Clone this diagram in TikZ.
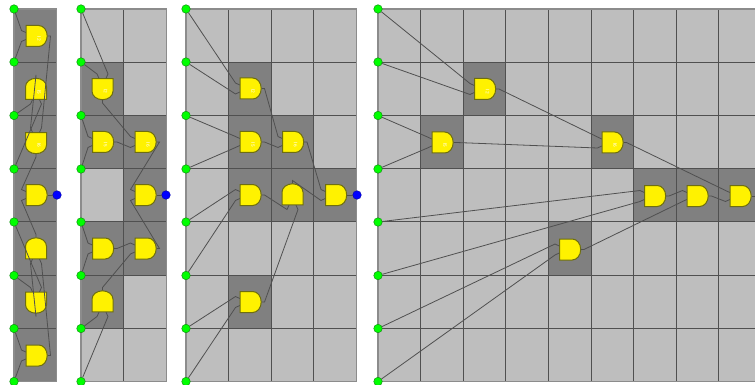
\documentclass[tikz,border=0pt]{standalone}
\usepackage{xcolor}
\usepackage{tikz}
\usetikzlibrary{calc}
\usetikzlibrary{shapes.gates.logic.US}
\definecolor{celllight}{HTML}{BEBEBE}
\definecolor{celldark}{HTML}{808080}
\definecolor{gridline}{HTML}{505050}
\definecolor{frameline}{HTML}{8C8C8C}
\definecolor{wireline}{HTML}{505050}
\definecolor{gateline}{HTML}{6E6E10}
\definecolor{pinline}{HTML}{109010}
\tikzset{
  mygate/.style={
    shape=and gate US,
    draw=gateline,
    fill=yellow,
    line width=1pt,
    inner sep=0pt,
    logic gate inputs=nn,
    minimum width=20.5pt,
    minimum height=21pt,
    xscale=0.8,
  },
  mypin/.style={
    shape=circle,
    draw=pinline,
    fill=green,
    line width=0.5pt,
    inner sep=0pt,
    minimum size=8.5pt,
  },
  myoutput/.style={
    shape=circle,
    draw=blue!70!black,
    fill=blue,
    line width=0.5pt,
    inner sep=0pt,
    minimum size=8.5pt,
  },
  mywire/.style={
    draw=wireline,
    line width=0.8pt,
  },
  mylabel/.style={
    text=white,
    inner sep=0pt,
    rotate=-90,
    font=\sffamily\fontsize{5}{5}\selectfont,
  },
}
% gate with its three stub ends: #1-1, #1-2 and #1-o
\newcommand{\andgate}[4]{
  \node[rotate=#4, mygate] (#1) at (#2,#3) {};
  \begin{scope}[shift={(#2,#3)}, rotate=#4]
    \coordinate (#1-1) at (-14.5pt, 5.5pt);
    \coordinate (#1-2) at (-14.5pt,-5.5pt);
    \coordinate (#1-o) at ( 14.5pt, 0pt);
  \end{scope}
}
% #1 left edge, #2 number of columns, #3 list of dark cells col/row
\newcommand{\panelgrid}[3]{
  \fill[celllight] (#1,9) rectangle ({#1+42.6*#2},381.5);
  \foreach \c/\r in {#3}
    \fill[celldark] ({#1+42.6*\c},{9+53.2*\r}) rectangle +(42.6,53.2);
  \foreach \c in {1,...,#2}
    \draw[gridline, line width=0.8pt] ({#1+42.6*\c},9) -- ({#1+42.6*\c},381.5);
  \foreach \r in {1,...,6}
    \draw[gridline, line width=0.8pt] (#1,{9+53.2*\r}) -- ({#1+42.6*#2},{9+53.2*\r});
  \draw[frameline, line width=1.2pt] (#1,9) rectangle ({#1+42.6*#2},381.5);
}
\begin{document}
\begin{tikzpicture}[x=1pt, y=-1pt]
    \clip (0,0) rectangle (755,385);

    \panelgrid{14}{1}{0/0,0/1,0/2,0/3,0/4,0/5,0/6}
    \panelgrid{81}{2}{0/1,0/2,0/4,0/5,1/2,1/3,1/4}
    \panelgrid{186}{4}{1/1,1/2,1/3,1/5,2/2,2/3,3/3}
    \panelgrid{378}{9}{2/1,1/2,5/2,6/3,7/3,8/3,4/4}

    \foreach \p/\x in {a/14,b/81,c/186,d/378}
      \foreach \n/\y in {1/9,2/62,3/115.5,4/169,5/222,6/275.5,7/328.5,8/381.5}
        \node[mypin] (\p\n) at (\x,\y) {};
    \node[myoutput] (aout) at (57,195) {};
    \node[myoutput] (bout) at (166,195) {};
    \node[myoutput] (cout) at (357,195) {};
    \coordinate (dout) at (755,196);

    \andgate{ga1}{36}{36}{0}
    \andgate{ga2}{36}{89.5}{90}
    \andgate{ga3}{36}{142.5}{-90}
    \andgate{ga4}{36}{195}{0}
    \andgate{ga5}{36}{249}{90}
    \andgate{ga6}{36}{302}{-90}
    \andgate{ga7}{36}{355.5}{0}

    \draw[mywire] (a1) -- (ga1-1) -- (ga1.input 1);
    \draw[mywire] (a2) -- (ga1-2) -- (ga1.input 2);
    \draw[mywire] (a3) -- (ga2-1) -- (ga2.input 1);
    \draw[mywire] (a4) -- (ga2-2) -- (ga2.input 2);
    \draw[mywire] (ga1.output) -- (ga1-o) -- (ga3-1) -- (ga3.input 1);
    \draw[mywire] (ga2.output) -- (ga2-o) -- (ga3-2) -- (ga3.input 2);
    \draw[mywire] (ga3.output) -- (ga3-o) -- (ga4-1) -- (ga4.input 1);
    \draw[mywire] (ga5.output) -- (ga5-o) -- (ga4-2) -- (ga4.input 2);
    \draw[mywire] (ga4.output) -- (aout);
    \draw[mywire] (a5) -- (ga6-1) -- (ga6.input 1);
    \draw[mywire] (a6) -- (ga6-2) -- (ga6.input 2);
    \draw[mywire] (ga6.output) -- (ga6-o) -- (ga5-1) -- (ga5.input 1);
    \draw[mywire] (ga7.output) -- (ga7-o) -- (ga5-2) -- (ga5.input 2);
    \draw[mywire] (a7) -- (ga7-1) -- (ga7.input 1);
    \draw[mywire] (a8) -- (ga7-2) -- (ga7.input 2);

    \andgate{gb1}{102.5}{88.5}{-90}
    \andgate{gb2}{102.5}{142}{0}
    \andgate{gb3}{145}{142}{0}
    \andgate{gb4}{145}{195}{0}
    \andgate{gb5}{102.5}{248.5}{0}
    \andgate{gb6}{145}{248.5}{0}
    \andgate{gb7}{102.5}{302}{90}

    \draw[mywire] (b1) -- (gb1-1) -- (gb1.input 1);
    \draw[mywire] (b2) -- (gb1-2) -- (gb1.input 2);
    \draw[mywire] (b3) -- (gb2-1) -- (gb2.input 1);
    \draw[mywire] (b4) -- (gb2-2) -- (gb2.input 2);
    \draw[mywire] (gb1.output) -- (gb1-o) -- (gb3-1) -- (gb3.input 1);
    \draw[mywire] (gb2.output) -- (gb2-o) -- (gb3-2) -- (gb3.input 2);
    \draw[mywire] (gb3.output) -- (gb3-o) -- (gb4-1) -- (gb4.input 1);
    \draw[mywire] (gb6.output) -- (gb6-o) -- (gb4-2) -- (gb4.input 2);
    \draw[mywire] (gb4.output) -- (bout);
    \draw[mywire] (b5) -- (gb5-1) -- (gb5.input 1);
    \draw[mywire] (b6) -- (gb5-2) -- (gb5.input 2);
    \draw[mywire] (gb5.output) -- (gb5-o) -- (gb6-1) -- (gb6.input 1);
    \draw[mywire] (gb7.output) -- (gb7-o) -- (gb6-2) -- (gb6.input 2);
    \draw[mywire] (b7) -- (gb7-1) -- (gb7.input 1);
    \draw[mywire] (b8) -- (gb7-2) -- (gb7.input 2);

    \andgate{gc1}{250}{88.5}{0}
    \andgate{gc2}{250}{142}{0}
    \andgate{gc3}{292.5}{142}{0}
    \andgate{gc4}{335.5}{195}{0}
    \andgate{gc5}{250}{195}{0}
    \andgate{gc6}{292.5}{195}{90}
    \andgate{gc7}{250}{302}{0}

    \draw[mywire] (c1) -- (gc1-1) -- (gc1.input 1);
    \draw[mywire] (c2) -- (gc1-2) -- (gc1.input 2);
    \draw[mywire] (c3) -- (gc2-1) -- (gc2.input 1);
    \draw[mywire] (c4) -- (gc2-2) -- (gc2.input 2);
    \draw[mywire] (gc1.output) -- (gc1-o) -- (gc3-1) -- (gc3.input 1);
    \draw[mywire] (gc2.output) -- (gc2-o) -- (gc3-2) -- (gc3.input 2);
    \draw[mywire] (gc3.output) -- (gc3-o) -- (gc4-1) -- (gc4.input 1);
    \draw[mywire] (gc6.output) -- (gc6-o) -- (gc4-2) -- (gc4.input 2);
    \draw[mywire] (gc4.output) -- (cout);
    \draw[mywire] (c5) -- (gc5-1) -- (gc5.input 1);
    \draw[mywire] (c6) -- (gc5-2) -- (gc5.input 2);
    \draw[mywire] (gc5.output) -- (gc5-o) -- (gc6-1) -- (gc6.input 1);
    \draw[mywire] (gc7.output) -- (gc7-o) -- (gc6-2) -- (gc6.input 2);
    \draw[mywire] (c7) -- (gc7-1) -- (gc7.input 1);
    \draw[mywire] (c8) -- (gc7-2) -- (gc7.input 2);

    \andgate{gd1}{484.5}{89}{0}
    \andgate{gd2}{442}{142.5}{0}
    \andgate{gd3}{612}{142.5}{0}
    \andgate{gd4}{740}{196}{0}
    \andgate{gd5}{654.5}{196}{0}
    \andgate{gd6}{697}{196}{0}
    \andgate{gd7}{569.5}{249.5}{0}

    \draw[mywire] (d1) -- (gd1-1) -- (gd1.input 1);
    \draw[mywire] (d2) -- (gd1-2) -- (gd1.input 2);
    \draw[mywire] (d3) -- (gd2-1) -- (gd2.input 1);
    \draw[mywire] (d4) -- (gd2-2) -- (gd2.input 2);
    \draw[mywire] (gd1.output) -- (gd1-o) -- (gd3-1) -- (gd3.input 1);
    \draw[mywire] (gd2.output) -- (gd2-o) -- (gd3-2) -- (gd3.input 2);
    \draw[mywire] (gd3.output) -- (gd3-o) -- (gd4-1) -- (gd4.input 1);
    \draw[mywire] (gd6.output) -- (gd6-o) -- (gd4-2) -- (gd4.input 2);
    \draw[mywire] (gd4.output) -- (dout);
    \draw[mywire] (d5) -- (gd5-1) -- (gd5.input 1);
    \draw[mywire] (d6) -- (gd5-2) -- (gd5.input 2);
    \draw[mywire] (gd5.output) -- (gd5-o) -- (gd6-1) -- (gd6.input 1);
    \draw[mywire] (gd7.output) -- (gd7-o) -- (gd6-2) -- (gd6.input 2);
    \draw[mywire] (d7) -- (gd7-1) -- (gd7.input 1);
    \draw[mywire] (d8) -- (gd7-2) -- (gd7.input 2);

    \foreach \g/\t in {ga1/I2,ga2/I5,ga3/I6,gb1/I2,gb2/I5,gb3/I6,gc1/I2,gc2/I5,gc3/I6,gd1/I2,gd2/I5,gd3/I6}
      \node[mylabel] (\g-t) at ([shift={(3pt,-3pt)}]\g.center) {\t};
\end{tikzpicture}
\end{document}
